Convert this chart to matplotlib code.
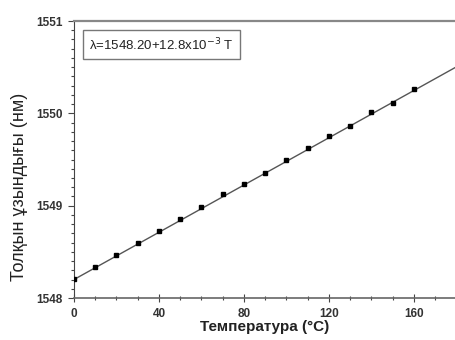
import numpy as np
import matplotlib.pyplot as plt
from matplotlib.ticker import MultipleLocator

plt.rcParams['font.family'] = ['Liberation Sans', 'DejaVu Sans']

# measured points
temp = [0, 10, 20, 30, 40, 50, 60, 70, 80, 90, 100, 110, 120, 130, 140, 150, 160]
wavelength = [1548.21, 1548.34, 1548.47, 1548.60, 1548.73, 1548.86, 1548.99, 1549.13,
              1549.24, 1549.35, 1549.49, 1549.63, 1549.75, 1549.86, 1550.01, 1550.11, 1550.26]

# linear fit from the label
intercept = 1548.20
slope = 12.8e-3

fig = plt.figure(figsize=(4.55, 3.4), dpi=100)
ax = fig.add_axes([0.1626, 0.1235, 0.8374, 0.8147])

tt = np.array([0, 179.5])
ax.plot(tt, intercept + slope * tt, color='#555555', lw=1.0, zorder=2)
ax.plot(temp, wavelength, 's', color='black', ms=3.2, zorder=3)

ax.set_xlim(0, 179.3)
ax.set_ylim(1548, 1551)
ax.xaxis.set_major_locator(MultipleLocator(40))
ax.xaxis.set_minor_locator(MultipleLocator(10))
ax.yaxis.set_major_locator(MultipleLocator(1))
ax.yaxis.set_minor_locator(MultipleLocator(0.1))
ax.tick_params(axis='x', which='major', direction='inout', length=6, width=0.8, colors='#444444', labelsize=8.5, pad=4)
ax.tick_params(axis='x', which='minor', direction='inout', length=3.5, width=0.8, colors='#444444')
ax.tick_params(axis='y', which='major', direction='out', length=4, width=0.8, colors='#444444', labelsize=8.5, pad=4)
ax.tick_params(axis='y', which='minor', direction='out', length=2.5, width=0.8, colors='#444444')
for lab in ax.get_xticklabels() + ax.get_yticklabels():
    lab.set_fontweight('bold')
    lab.set_color('#333333')

ax.spines['right'].set_visible(False)
ax.spines['top'].set_color('#888888')
ax.spines['top'].set_linewidth(1.6)
ax.spines['left'].set_color('#444444')
ax.spines['bottom'].set_color('#666666')
ax.spines['bottom'].set_linewidth(1.2)

ax.set_xlabel('Температура (°C)', fontsize=11, fontweight='bold', color='#222222', labelpad=0)
ax.set_ylabel('Толқын ұзындығы (нм)', fontsize=13, color='#222222')
ax.yaxis.set_label_coords(-0.12, 0.4)

ax.text(0.04, 0.915, r'λ=1548.20+12.8x10$^{-3}$ T', transform=ax.transAxes,
        fontsize=9.5, color='#222222', va='center', ha='left',
        bbox=dict(boxstyle='square,pad=0.45', fc='white', ec='#777777', lw=1.0))

fig.savefig('out.png', dpi=100)
